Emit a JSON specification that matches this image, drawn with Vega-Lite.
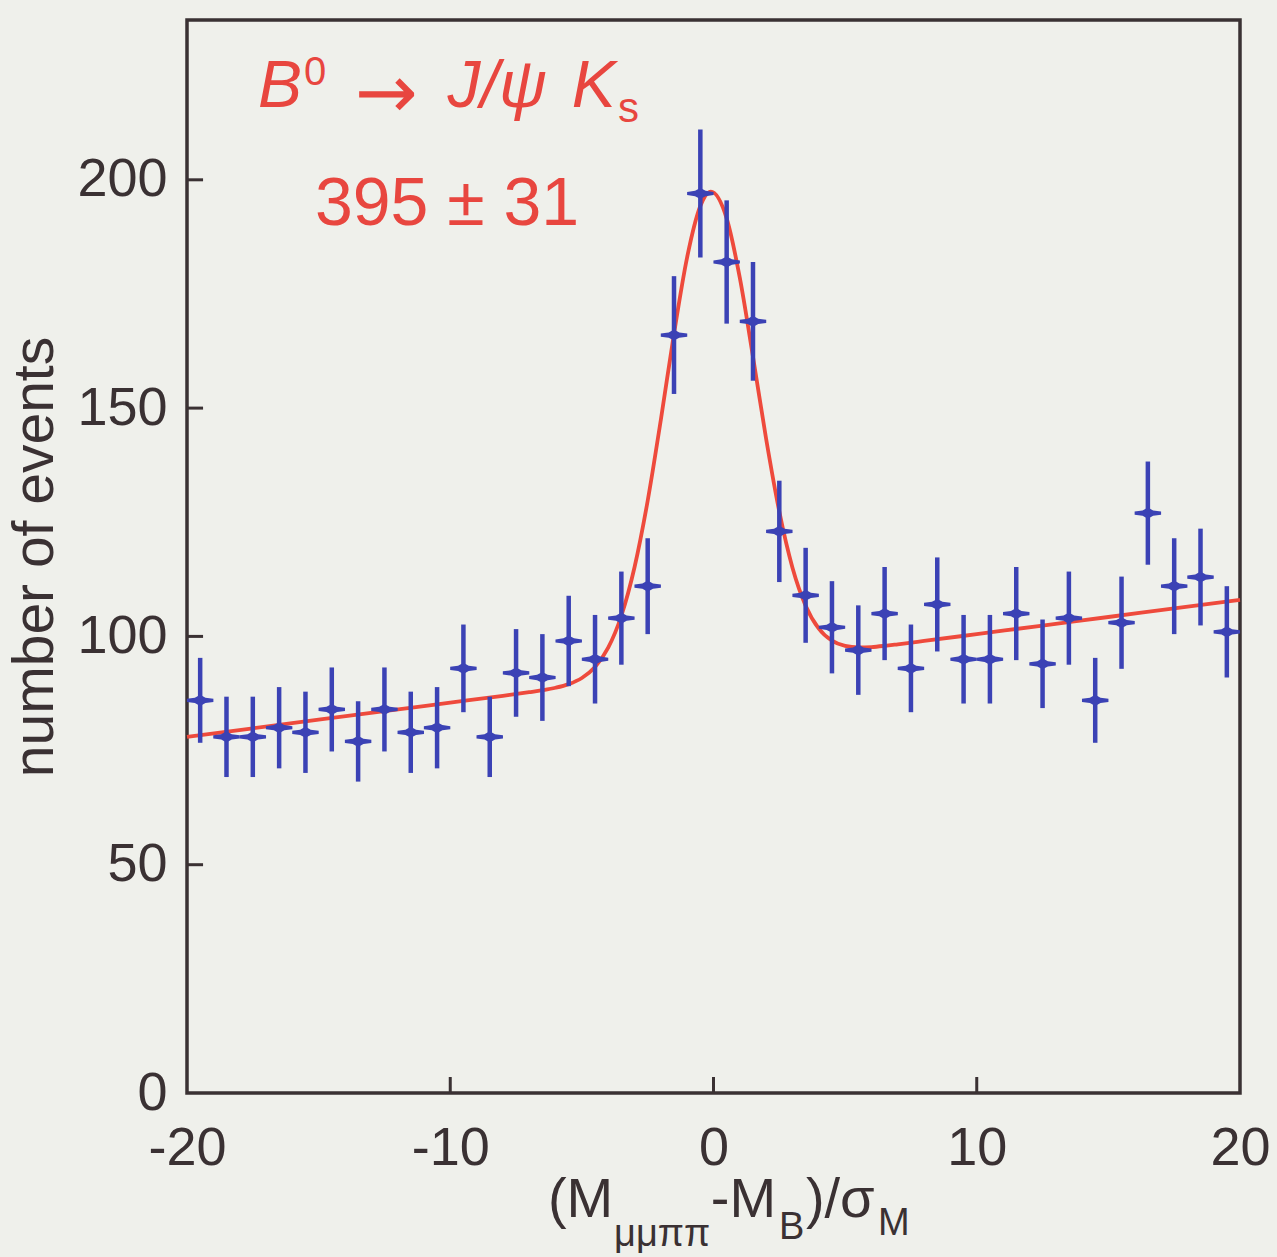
{
  "$schema": "https://vega.github.io/schema/vega-lite/v6.json",
  "autosize": {"type": "none"},
  "padding": {"left": 187, "top": 20, "right": 37, "bottom": 164},
  "width": 1053,
  "height": 1073,
  "background": "#eff0eb",
  "config": {
    "view": {"stroke": "#3a3133", "strokeWidth": 3.5, "fill": null},
    "axis": {
      "domain": false,
      "grid": false,
      "ticks": false,
      "labelFont": "Liberation Sans",
      "labelColor": "#3a3133",
      "titleFont": "Liberation Sans",
      "titleFontWeight": "normal",
      "titleColor": "#3a3133"
    },
    "axisX": {"labelFontSize": 54, "labelPadding": 28, "tickCount": 4, "labelFlush": false, "labelExpr": "replace(datum.label, '\u2212', '-')"},
    "axisY": {"labelFontSize": 54, "labelPadding": 20, "tickCount": 5, "titleFontSize": 57, "titleX": -135, "titleBaseline": "alphabetic"}
  },
  "datasets": {
    "points": [
      {"x": -19.5, "n": 86, "err": 9.3},
      {"x": -18.5, "n": 78, "err": 8.8},
      {"x": -17.5, "n": 78, "err": 8.8},
      {"x": -16.5, "n": 80, "err": 8.9},
      {"x": -15.5, "n": 79, "err": 8.9},
      {"x": -14.5, "n": 84, "err": 9.2},
      {"x": -13.5, "n": 77, "err": 8.8},
      {"x": -12.5, "n": 84, "err": 9.2},
      {"x": -11.5, "n": 79, "err": 8.9},
      {"x": -10.5, "n": 80, "err": 8.9},
      {"x": -9.5, "n": 93, "err": 9.6},
      {"x": -8.5, "n": 78, "err": 8.8},
      {"x": -7.5, "n": 92, "err": 9.6},
      {"x": -6.5, "n": 91, "err": 9.5},
      {"x": -5.5, "n": 99, "err": 9.9},
      {"x": -4.5, "n": 95, "err": 9.7},
      {"x": -3.5, "n": 104, "err": 10.2},
      {"x": -2.5, "n": 111, "err": 10.5},
      {"x": -1.5, "n": 166, "err": 12.9},
      {"x": -0.5, "n": 197, "err": 14.0},
      {"x": 0.5, "n": 182, "err": 13.5},
      {"x": 1.5, "n": 169, "err": 13.0},
      {"x": 2.5, "n": 123, "err": 11.1},
      {"x": 3.5, "n": 109, "err": 10.4},
      {"x": 4.5, "n": 102, "err": 10.1},
      {"x": 5.5, "n": 97, "err": 9.8},
      {"x": 6.5, "n": 105, "err": 10.2},
      {"x": 7.5, "n": 93, "err": 9.6},
      {"x": 8.5, "n": 107, "err": 10.3},
      {"x": 9.5, "n": 95, "err": 9.7},
      {"x": 10.5, "n": 95, "err": 9.7},
      {"x": 11.5, "n": 105, "err": 10.2},
      {"x": 12.5, "n": 94, "err": 9.7},
      {"x": 13.5, "n": 104, "err": 10.2},
      {"x": 14.5, "n": 86, "err": 9.3},
      {"x": 15.5, "n": 103, "err": 10.1},
      {"x": 16.5, "n": 127, "err": 11.3},
      {"x": 17.5, "n": 111, "err": 10.5},
      {"x": 18.5, "n": 113, "err": 10.6},
      {"x": 19.5, "n": 101, "err": 10.0}
    ],
    "fit": [
      {"x": -20, "f": 78.0},
      {"x": -17.5, "f": 79.88},
      {"x": -15, "f": 81.75},
      {"x": -12.5, "f": 83.63},
      {"x": -10, "f": 85.5},
      {"x": -8, "f": 87.0},
      {"x": -7, "f": 87.78},
      {"x": -6.5, "f": 88.21},
      {"x": -6, "f": 88.75},
      {"x": -5.5, "f": 89.55},
      {"x": -5, "f": 90.89},
      {"x": -4.5, "f": 93.29},
      {"x": -4, "f": 97.52},
      {"x": -3.5, "f": 104.52},
      {"x": -3, "f": 115.14},
      {"x": -2.5, "f": 129.71},
      {"x": -2, "f": 147.46},
      {"x": -1.5, "f": 166.32},
      {"x": -1, "f": 183.08},
      {"x": -0.5, "f": 194.27},
      {"x": -0.1, "f": 197.43},
      {"x": 0.5, "f": 191.56},
      {"x": 1, "f": 178.51},
      {"x": 1.5, "f": 161.24},
      {"x": 2, "f": 143.23},
      {"x": 2.5, "f": 127.32},
      {"x": 3, "f": 115.06},
      {"x": 3.5, "f": 106.73},
      {"x": 4, "f": 101.7},
      {"x": 4.5, "f": 99.06},
      {"x": 5, "f": 97.91},
      {"x": 5.5, "f": 97.59},
      {"x": 6, "f": 97.67},
      {"x": 6.5, "f": 97.93},
      {"x": 7, "f": 98.27},
      {"x": 8, "f": 99.0},
      {"x": 10, "f": 100.5},
      {"x": 12.5, "f": 102.38},
      {"x": 15, "f": 104.25},
      {"x": 17.5, "f": 106.13},
      {"x": 20, "f": 108.0}
    ],
    "yticks": [{"v": 50}, {"v": 100}, {"v": 150}, {"v": 200}],
    "xticks": [{"v": -10}, {"v": 0}, {"v": 10}],
    "one": [{}]
  },
  "layer": [
    {
      "data": {"name": "fit"},
      "mark": {"type": "line", "color": "#ee4a3c", "strokeWidth": 3.8, "interpolate": "monotone"},
      "encoding": {
        "x": {"field": "x", "type": "quantitative", "scale": {"domain": [-20, 20], "nice": false}, "title": null},
        "y": {"field": "f", "type": "quantitative", "scale": {"domain": [0, 235], "nice": false}, "title": "number of events"}
      }
    },
    {
      "data": {"name": "yticks"},
      "mark": {"type": "rule", "color": "#3a3133", "strokeWidth": 3},
      "encoding": {
        "x": {"datum": -20, "title": null},
        "x2": {"datum": -19.39},
        "y": {"field": "v", "type": "quantitative", "title": "number of events"}
      }
    },
    {
      "data": {"name": "xticks"},
      "mark": {"type": "rule", "color": "#3a3133", "strokeWidth": 3},
      "encoding": {
        "x": {"field": "v", "type": "quantitative", "title": null},
        "y": {"datum": 0, "title": "number of events"},
        "y2": {"datum": 3.5}
      }
    },
    {
      "data": {"name": "points"},
      "mark": {"type": "errorbar", "color": "#3b42b5", "thickness": 4.5},
      "encoding": {
        "x": {"field": "x", "type": "quantitative", "title": null},
        "y": {"field": "n", "type": "quantitative", "title": "number of events"},
        "yError": {"field": "err"}
      }
    },
    {
      "data": {"name": "points"},
      "mark": {"type": "point", "filled": true, "opacity": 1, "color": "#3b42b5", "size": 700, "shape": "M-1,-0.12L-0.4,-0.2L0,-0.42L0.4,-0.2L1,-0.12L1,0.12L0.4,0.2L0,0.42L-0.4,0.2L-1,0.12Z"},
      "encoding": {
        "x": {"field": "x", "type": "quantitative", "title": null},
        "y": {"field": "n", "type": "quantitative", "title": "number of events"}
      }
    },
    {
      "data": {"name": "one"},
      "mark": {"type": "text", "text": "B", "font": "Liberation Sans", "fontSize": 66, "fontStyle": "italic", "color": "#e8463f", "align": "left", "baseline": "alphabetic"},
      "encoding": {"x": {"datum": -17.3, "title": null}, "y": {"datum": 215.9, "title": "number of events"}}
    },
    {
      "data": {"name": "one"},
      "mark": {"type": "text", "text": "0", "font": "Liberation Sans", "fontSize": 40, "color": "#e8463f", "align": "left", "baseline": "alphabetic"},
      "encoding": {"x": {"datum": -15.56, "title": null}, "y": {"datum": 220.8, "title": "number of events"}}
    },
    {
      "data": {"name": "one"},
      "mark": {"type": "text", "text": "→", "font": "DejaVu Sans", "fontSize": 75, "color": "#e8463f", "align": "left", "baseline": "alphabetic"},
      "encoding": {"x": {"datum": -13.62, "title": null}, "y": {"datum": 213.5, "title": "number of events"}}
    },
    {
      "data": {"name": "one"},
      "mark": {"type": "text", "text": "J/ψ", "font": "Liberation Sans", "fontSize": 66, "fontStyle": "italic", "color": "#e8463f", "align": "left", "baseline": "alphabetic"},
      "encoding": {"x": {"datum": -10.1, "title": null}, "y": {"datum": 215.9, "title": "number of events"}}
    },
    {
      "data": {"name": "one"},
      "mark": {"type": "text", "text": "K", "font": "Liberation Sans", "fontSize": 66, "fontStyle": "italic", "color": "#e8463f", "align": "left", "baseline": "alphabetic"},
      "encoding": {"x": {"datum": -5.38, "title": null}, "y": {"datum": 215.9, "title": "number of events"}}
    },
    {
      "data": {"name": "one"},
      "mark": {"type": "text", "text": "s", "font": "Liberation Sans", "fontSize": 42, "color": "#e8463f", "align": "left", "baseline": "alphabetic"},
      "encoding": {"x": {"datum": -3.63, "title": null}, "y": {"datum": 212.7, "title": "number of events"}}
    },
    {
      "data": {"name": "one"},
      "mark": {"type": "text", "text": "395 ± 31", "font": "Liberation Sans", "fontSize": 68, "color": "#e8463f", "align": "left", "baseline": "alphabetic"},
      "encoding": {"x": {"datum": -15.14, "title": null}, "y": {"datum": 190.1, "title": "number of events"}}
    },
    {
      "data": {"name": "one"},
      "mark": {"type": "text", "text": "(M", "font": "Liberation Sans", "fontSize": 56, "color": "#3a3133", "align": "left", "baseline": "alphabetic"},
      "encoding": {"x": {"datum": -6.29, "title": null}, "y": {"datum": -27.2, "title": "number of events"}}
    },
    {
      "data": {"name": "one"},
      "mark": {"type": "text", "text": "μμππ", "font": "Liberation Sans", "fontSize": 38, "color": "#3a3133", "align": "left", "baseline": "alphabetic"},
      "encoding": {"x": {"datum": -3.78, "title": null}, "y": {"datum": -33.6, "title": "number of events"}}
    },
    {
      "data": {"name": "one"},
      "mark": {"type": "text", "text": "-M", "font": "Liberation Sans", "fontSize": 56, "color": "#3a3133", "align": "left", "baseline": "alphabetic"},
      "encoding": {"x": {"datum": -0.1, "title": null}, "y": {"datum": -27.2, "title": "number of events"}}
    },
    {
      "data": {"name": "one"},
      "mark": {"type": "text", "text": "B", "font": "Liberation Sans", "fontSize": 38, "color": "#3a3133", "align": "left", "baseline": "alphabetic"},
      "encoding": {"x": {"datum": 2.49, "title": null}, "y": {"datum": -31.9, "title": "number of events"}}
    },
    {
      "data": {"name": "one"},
      "mark": {"type": "text", "text": ")/σ", "font": "Liberation Sans", "fontSize": 56, "color": "#3a3133", "align": "left", "baseline": "alphabetic"},
      "encoding": {"x": {"datum": 3.51, "title": null}, "y": {"datum": -27.2, "title": "number of events"}}
    },
    {
      "data": {"name": "one"},
      "mark": {"type": "text", "text": "M", "font": "Liberation Sans", "fontSize": 38, "color": "#3a3133", "align": "left", "baseline": "alphabetic"},
      "encoding": {"x": {"datum": 6.25, "title": null}, "y": {"datum": -31.0, "title": "number of events"}}
    }
  ]
}
